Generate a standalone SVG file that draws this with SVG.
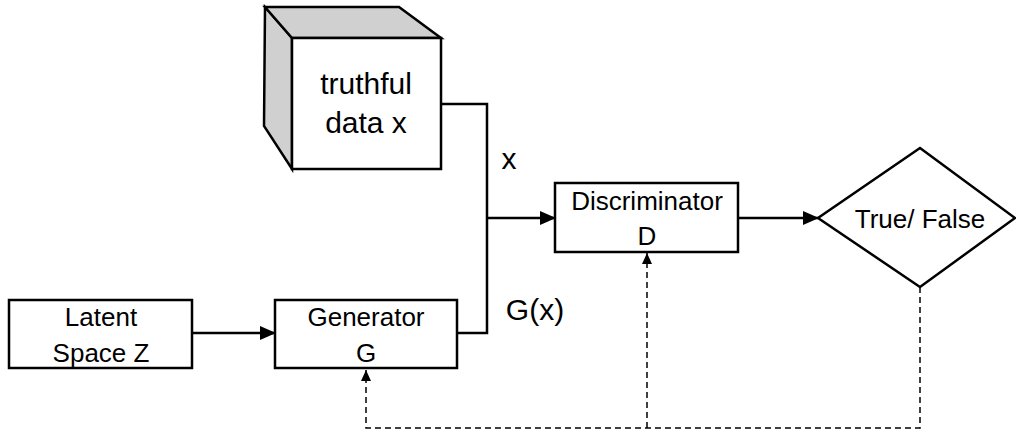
<svg xmlns="http://www.w3.org/2000/svg" width="1016" height="434" viewBox="0 0 1016 434">
<style>
.box{fill:#fff;stroke:#000;stroke-width:2.5}
.side{fill:#d0d0d0;stroke:#000;stroke-width:2.5;stroke-linejoin:miter}
.ln{fill:none;stroke:#000;stroke-width:2.5}
.dash{fill:none;stroke:#000;stroke-width:1.5;stroke-dasharray:6 4}
text{font-family:"Liberation Sans",Arial,sans-serif;fill:#000;text-anchor:middle}
.t{font-size:26px}
.tb{font-size:30px}
</style>
<defs>
<marker id="a" markerUnits="userSpaceOnUse" markerWidth="16" markerHeight="14" refX="15" refY="7" orient="auto">
<path d="M0,0 L16,7 L0,14 Z" fill="#000"/>
</marker>
<marker id="ad" markerUnits="userSpaceOnUse" markerWidth="11" markerHeight="10" refX="11" refY="5" orient="auto">
<path d="M0,0 L11,5 L0,10 Z" fill="#000"/>
</marker>
</defs>
<rect width="1016" height="434" fill="#fff"/>
<g id="connectors">
<polyline class="ln" points="441,104 487,104 487,333 457,333"/>
<line class="ln" x1="487" y1="218" x2="555" y2="218" marker-end="url(#a)"/>
<line class="ln" x1="192" y1="333" x2="275" y2="333" marker-end="url(#a)"/>
<line class="ln" x1="738" y1="218" x2="818" y2="218" marker-end="url(#a)"/>
<polyline class="dash" points="920,287 920,428 366,428 366,370" marker-end="url(#ad)"/>
<line class="dash" x1="647" y1="428" x2="647" y2="253" marker-end="url(#ad)"/>
<text class="tb" x="509" y="169">x</text>
<text class="tb" x="535" y="320">G(x)</text>
</g>
<g id="truthful-data">
<polygon class="side" points="265,7 292,38 292,169 264,126"/>
<polygon class="side" points="265,7 399,7 441,38 292,38"/>
<rect class="box" x="292" y="38" width="149" height="131"/>
<text class="tb" x="366" y="94">truthful</text>
<text class="tb" x="366" y="133">data x</text>
</g>
<g id="latent">
<rect class="box" x="9" y="300" width="183" height="68"/>
<text class="t" x="101" y="326">Latent</text>
<text class="t" x="101" y="362">Space Z</text>
</g>
<g id="generator">
<rect class="box" x="275" y="300" width="182" height="68"/>
<text class="t" x="366" y="326">Generator</text>
<text class="t" x="366" y="362">G</text>
</g>
<g id="discriminator">
<rect class="box" x="555" y="183" width="183" height="69"/>
<text class="t" x="647" y="210">Discriminator</text>
<text class="t" x="647" y="245">D</text>
</g>
<g id="decision">
<polygon class="box" points="920,148 1015,218 920,287 818,218"/>
<text class="t" x="920" y="228">True/ False</text>
</g>
</svg>
